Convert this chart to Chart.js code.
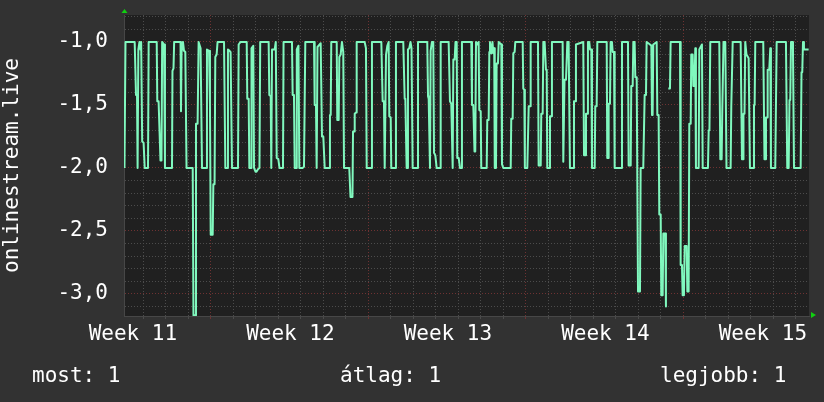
<!DOCTYPE html>
<html>
<head>
<meta charset="utf-8">
<script src="https://cdn.jsdelivr.net/npm/chart.js@4.4.0/dist/chart.umd.min.js"></script>
<style>
  html, body { margin: 0; padding: 0; background: #323232; }
  canvas { display: block; }
</style>
</head>
<body>
<canvas id="graph" width="824" height="402"></canvas>
<script>
// Hours since the left edge of the graph, one entry per vertex of the line
const hours = [
    0.5, 1.6, 11.4, 12.8, 13.9, 14.5, 15.3, 16.5, 17.6, 18.3,
    19.4, 20.9, 22.1, 25.6, 26.3, 34.9, 35.5, 36.9, 38.9, 40.0,
    40.7, 42.7, 43.7, 51.2, 51.7, 52.8, 53.5, 60.3, 60.8, 61.4,
    62.9, 64.0, 65.4, 66.7, 73.3, 74.1, 76.1, 76.8, 78.5, 79.6,
    81.7, 83.2, 88.0, 88.5, 90.7, 91.7, 92.5, 94.6, 95.3, 96.6,
    97.4, 98.8, 99.8, 106.7, 108.1, 109.9, 110.9, 112.6, 113.7, 115.2,
    121.6,
    122.3, 124.3, 130.9, 131.5, 133.0, 133.7, 135.5, 136.0, 137.9, 138.7,
    140.3, 141.3, 142.9, 144.5, 145.3, 154.3, 155.0, 156.5, 157.1, 157.9,
    160.7, 161.9, 162.9, 164.6, 165.9, 169.6, 170.2, 179.2, 179.9, 181.3,
    182.1, 183.8, 184.3, 186.1, 187.0, 190.4, 192.0, 193.4, 202.7, 203.4,
    204.8, 205.5, 206.4, 209.8, 211.2, 212.6, 214.1, 219.0, 219.7, 220.5,
    221.1, 226.9, 227.5, 229.0, 229.7, 231.1, 232.5, 233.9, 234.7, 240.3,
    241.6, 243.7,
    244.3, 245.5, 246.1, 247.5, 248.2, 256.7, 258.1, 258.9, 263.8, 264.5,
    274.5, 275.9, 277.3, 278.1, 279.5, 280.9, 282.3, 283.0, 284.5, 285.1,
    289.4, 290.1, 297.9, 299.4, 300.1, 301.5, 302.4, 302.9, 304.3, 305.6,
    306.7, 307.9, 312.9, 313.6, 323.5, 324.3, 325.0, 326.4, 327.1, 328.5,
    329.9, 330.7, 332.1, 333.5, 337.1, 337.8, 346.3, 347.7, 349.1, 350.6,
    351.3, 352.7, 353.6, 354.9, 355.5, 357.0, 358.4, 360.0, 360.5,
    370.5, 371.2, 372.6, 373.9, 374.7, 375.5, 376.9, 378.3, 379.0, 380.5,
    381.1, 386.9, 387.5, 389.0, 389.7, 390.4, 391.8, 393.1, 393.9, 394.9,
    395.5, 396.8, 397.5, 398.9, 399.7, 402.5, 403.2, 404.6, 412.5, 413.1,
    414.6, 415.3, 416.7, 417.4, 425.3, 425.9, 427.0, 427.6, 430.2, 431.7,
    433.1, 433.8, 441.6, 442.3, 444.5, 445.1, 446.6, 447.3, 448.7, 450.1,
    450.9, 451.5, 453.7, 454.4, 455.8, 456.5, 467.9, 468.6, 469.9, 471.5,
    472.9, 474.3, 475.7, 479.2, 480.0, 481.4, 482.1,
    489.9, 490.7, 492.1, 492.8, 494.2, 494.9, 496.3, 497.1, 498.5, 499.2,
    502.1, 502.7, 504.2, 504.9, 514.9, 515.5, 516.3, 517.0, 518.4, 519.1,
    520.5, 521.3, 522.7, 523.4, 530.5, 531.2, 537.6, 538.3, 540.5, 541.1,
    542.6, 543.3, 544.7, 545.4, 546.9, 548.3, 550.4, 551.1, 553.9, 555.4,
    556.8, 557.5, 561.1, 562.5, 563.2, 563.9, 564.6, 568.2, 568.9, 570.3,
    571.0, 572.5, 573.1, 574.6, 575.3, 577.4, 578.1, 578.7, 579.5, 580.6,
    582.4, 583.1, 593.1, 593.8, 595.2, 595.9, 597.3, 598.1, 600.2, 600.9,
    602.3, 603.0, 604.5, 605.1, 606.6, 607.3, 608.5, 609.4, 610.1, 613.0,
    613.7, 616.5, 617.3, 622.9, 623.7, 624.5, 625.4, 635.0,
    636.1, 637.5, 638.2, 638.9, 639.5, 641.4, 642.7, 647.1, 647.8, 648.5,
    649.3, 657.8, 659.2, 660.3, 660.8, 661.9, 662.7, 664.0, 666.3, 667.7,
    671.2, 672.0, 672.7, 673.4, 681.9, 683.2, 684.1, 684.8, 685.9, 686.6,
    688.3, 689.4, 690.1, 694.7, 696.2, 706.1, 707.5, 709.0, 709.9, 710.7,
    711.5, 712.9, 713.6, 714.7, 721.8, 722.7, 723.5, 724.3, 725.3, 730.3
];

const values = [
    -2.0, -1.0, -1.0, -1.42, -1.42, -2.0, -1.06, -1.0, -1.06, -1.0,
    -1.79, -1.8, -2.0, -2.0, -1.0, -1.0, -1.47, -1.47, -1.94, -1.94,
    -1.0, -1.02, -2.0, -2.0, -1.23, -1.21, -1.0, -1.0, -1.55, -1.08,
    -1.0, -1.07, -1.08, -2.0, -2.0, -3.17, -3.17, -1.65, -1.65, -1.0,
    -1.05, -2.0, -2.0, -1.06, -1.07, -1.5, -2.53, -2.53, -2.13, -2.13,
    -1.12, -1.1, -1.0, -1.0, -2.0, -2.0, -1.06, -1.07, -1.08, -2.0,
    -2.0,
    -1.02, -1.0, -1.0, -1.45, -1.45, -2.0, -2.0, -1.05, -1.03, -2.0,
    -2.03, -2.03, -2.01, -2.0, -1.0, -1.0, -1.42, -1.43, -2.0, -1.06,
    -1.06, -1.0, -1.92, -1.93, -2.0, -2.0, -1.0, -1.0, -1.42, -1.42,
    -2.0, -2.0, -1.06, -1.03, -2.0, -2.0, -1.99, -1.0, -1.0, -1.5,
    -1.5, -2.0, -1.04, -1.01, -1.75, -1.75, -2.0, -2.0, -1.58, -1.58,
    -1.0, -1.0, -1.62, -1.62, -1.12, -1.1, -1.0, -1.08, -2.0, -2.0,
    -2.23, -2.23,
    -1.71, -1.71, -1.57, -1.56, -1.0, -1.0, -1.05, -2.0, -2.0, -1.0,
    -1.0, -1.47, -1.47, -2.0, -1.1, -1.03, -1.0, -1.59, -1.6, -2.0,
    -2.0, -1.0, -1.0, -1.45, -1.45, -2.0, -2.0, -1.06, -1.05, -1.0,
    -1.05, -2.0, -2.0, -1.0, -1.0, -1.43, -1.45, -2.0, -1.07, -1.0,
    -1.0, -1.88, -1.9, -2.0, -2.0, -1.0, -1.0, -1.47, -1.49, -2.0,
    -1.14, -1.14, -1.0, -1.0, -1.92, -1.92, -2.0, -2.0, -1.0,
    -1.0, -1.5, -1.5, -1.87, -1.87, -1.0, -1.02, -1.0, -1.54, -1.55,
    -2.0, -2.0, -1.62, -1.62, -1.08, -1.0, -1.09, -1.0, -1.09, -1.05,
    -2.0, -2.0, -1.17, -1.17, -1.0, -1.02, -1.97, -2.0, -2.0, -1.61,
    -1.61, -1.09, -1.08, -1.0, -1.0, -1.37, -1.38, -2.0, -2.0, -1.51,
    -1.51, -1.0, -1.0, -1.98, -1.98, -1.57, -1.57, -1.0, -1.0, -1.22,
    -1.22, -2.0, -2.0, -1.59, -1.59, -1.0, -1.0, -1.95, -1.3, -1.3,
    -1.0, -1.0, -2.0, -2.0, -1.47, -1.47, -1.02,
    -1.0, -1.9, -1.9, -1.57, -1.57, -1.0, -1.0, -1.06, -1.06, -2.0,
    -2.0, -1.51, -1.51, -1.0, -1.0, -1.92, -1.92, -1.49, -1.49, -1.0,
    -1.0, -1.08, -1.08, -2.0, -2.0, -1.0, -1.0, -1.98, -1.98, -1.35,
    -1.35, -1.0, -1.0, -1.28, -1.28, -2.98, -2.98, -2.0, -2.0, -1.42,
    -1.42, -1.0, -1.02, -1.03, -1.58, -1.58, -1.02, -1.0, -1.58, -1.58,
    -2.37, -2.37, -3.01, -3.01, -2.52, -2.52, -3.1, -3.1, null, -1.37,
    -1.37, -1.0, -1.0, -2.77, -2.77, -3.01, -3.01, -2.62, -2.62, -2.98,
    -2.98, -1.65, -1.65, -1.1, -1.1, -1.35, -1.35, -1.05, -2.0, -2.0,
    -1.06, -1.02, -2.0, -2.0, -1.7, -1.7, -1.0, -1.0,
    -1.93, -1.93, -1.54, -1.54, -1.0, -1.0, -2.0, -2.0, -1.51, -1.51,
    -1.0, -1.0, -1.93, -1.93, -1.57, -1.57, -1.0, -1.1, -1.13, -2.0,
    -2.0, -1.5, -1.5, -1.0, -1.0, -1.93, -1.93, -1.6, -1.6, -1.22,
    -1.22, -1.05, -2.0, -2.0, -1.0, -1.0, -2.0, -2.0, -1.46, -1.46,
    -1.0, -1.0, -1.06, -2.0, -2.0, -1.24, -1.24, -1.0, -1.06, -1.06
];

// Axis labels
const weekLabels = ['Week 11', 'Week 12', 'Week 13', 'Week 14', 'Week 15'];
const weekLabelHours = [9.5, 177.5, 345.5, 513.5, 681.5];
const yLabelValues = [-1.0, -1.5, -2.0, -2.5, -3.0];
const seriesName = 'onlinestream.live';

// Summary line under the graph
const statNames = ['most', 'átlag', 'legjobb'];
const statValues = ['1', '1', '1'];

// Ranges
const X_MAX = 730.7;
const Y_MIN = -3.175;
const Y_MAX = -0.786;
const FIRST_DAY_LINE = 20.3;   // hours
const FIRST_WEEK_LINE = 92.3;  // hours

// Colours
const BACK = '#323232';
const CANVAS = '#202020';
const GRID_MINOR = '#4c4c4c';
const GRID_MAJOR = '#6e3232';
const AXIS = '#474747';
const LINE = '#80f8be';
const ARROW = '#10d010';
const FONT = "'DejaVu Sans Mono', monospace";

Chart.defaults.font.family = FONT;
Chart.defaults.font.size = 21;
Chart.defaults.color = '#ffffff';

const dayLines = [];
for (let h = FIRST_DAY_LINE; h < X_MAX; h += 24) dayLines.push(Math.round(h * 10) / 10);
const yLines = [];
for (let k = -31; k <= -8; k++) yLines.push(k / 10);

function isWeekLine(h) {
    const m = (((h - FIRST_WEEK_LINE) % 168) + 168) % 168;
    return m < 0.5 || m > 167.5;
}
function isWeekLabel(h) {
    return weekLabelHours.some(v => Math.abs(v - h) < 1e-6);
}
function isYLabel(v) {
    return yLabelValues.some(l => Math.abs(l - v) < 1e-6);
}

const points = hours.map((h, i) => ({ x: h, y: values[i] }));

const backgroundPlugin = {
    id: 'rrdBackground',
    beforeDraw(chart) {
        const { ctx, chartArea: a } = chart;
        ctx.save();
        ctx.fillStyle = BACK;
        ctx.fillRect(0, 0, chart.width, chart.height);
        ctx.fillStyle = CANVAS;
        ctx.fillRect(a.left, a.top, a.right - a.left, a.bottom - a.top);
        ctx.restore();
    }
};

const decorationPlugin = {
    id: 'rrdDecoration',
    afterDraw(chart) {
        const { ctx, chartArea: a } = chart;
        ctx.save();
        // axis arrows
        ctx.fillStyle = ARROW;
        ctx.beginPath();
        ctx.moveTo(a.left - 2.5, a.top - 2);
        ctx.lineTo(a.left + 3.5, a.top - 2);
        ctx.lineTo(a.left + 0.5, a.top - 6);
        ctx.closePath();
        ctx.fill();
        ctx.beginPath();
        ctx.moveTo(a.right + 2, a.bottom - 4);
        ctx.lineTo(a.right + 2, a.bottom + 2);
        ctx.lineTo(a.right + 7, a.bottom - 1);
        ctx.closePath();
        ctx.fill();

        // summary
        ctx.fillStyle = '#ffffff';
        ctx.font = '21px ' + FONT;
        ctx.textBaseline = 'alphabetic';
        ctx.textAlign = 'left';
        const xs = [32, 340, 660];
        statNames.forEach((name, i) => {
            ctx.fillText(name + ': ' + statValues[i], xs[i], 382);
        });
        ctx.restore();
    }
};

new Chart(document.getElementById('graph'), {
    type: 'line',
    data: {
        datasets: [{
            label: seriesName,
            data: points,
            borderColor: LINE,
            borderWidth: 2,
            borderJoinStyle: 'round',
            pointRadius: 0,
            tension: 0,
            spanGaps: false,
            fill: false
        }]
    },
    options: {
        responsive: false,
        animation: false,
        events: [],
        layout: {
            autoPadding: false,
            padding: { left: 0, right: 15, top: 15, bottom: 56 }
        },
        plugins: {
            legend: { display: false },
            tooltip: { enabled: false }
        },
        scales: {
            x: {
                type: 'linear',
                min: 0,
                max: X_MAX,
                bounds: 'data',
                afterBuildTicks: s => {
                    s.ticks = dayLines.concat(weekLabelHours)
                        .sort((a, b) => a - b)
                        .map(v => ({ value: v }));
                },
                afterFit: s => {
                    s.height = 30;
                    s.paddingLeft = 0;
                    s.paddingRight = 0;
                },
                grid: {
                    color: c => isWeekLabel(c.tick.value) ? 'rgba(0,0,0,0)'
                        : (isWeekLine(c.tick.value) ? GRID_MAJOR : GRID_MINOR),
                    tickColor: c => isWeekLabel(c.tick.value) ? 'rgba(0,0,0,0)'
                        : (isWeekLine(c.tick.value) ? GRID_MAJOR : GRID_MINOR),
                    lineWidth: 1,
                    tickLength: 3,
                    tickBorderDash: []
                },
                border: { display: true, color: AXIS, dash: [1, 2] },
                ticks: {
                    autoSkip: false,
                    maxRotation: 0,
                    minRotation: 0,
                    padding: 3,
                    color: '#ffffff',
                    callback: v => {
                        const i = weekLabelHours.findIndex(h => Math.abs(h - v) < 1e-6);
                        return i >= 0 ? weekLabels[i] : '';
                    }
                }
            },
            y: {
                type: 'linear',
                min: Y_MIN,
                max: Y_MAX,
                bounds: 'data',
                afterBuildTicks: s => { s.ticks = yLines.map(v => ({ value: v })); },
                afterFit: s => {
                    s.width = 124;
                    s.paddingTop = 0;
                    s.paddingBottom = 0;
                },
                grid: {
                    color: c => isYLabel(c.tick.value) ? GRID_MAJOR : GRID_MINOR,
                    lineWidth: 1,
                    drawTicks: false
                },
                border: { display: true, color: AXIS, dash: [1, 2] },
                ticks: {
                    autoSkip: false,
                    padding: 16,
                    color: '#ffffff',
                    callback: v => isYLabel(v) ? v.toFixed(1).replace('.', ',') : ''
                },
                title: {
                    display: true,
                    text: seriesName,
                    color: '#ffffff',
                    padding: { top: 0, bottom: 0 },
                    font: { family: FONT, size: 21 }
                }
            }
        }
    },
    plugins: [backgroundPlugin, decorationPlugin]
});
</script>
</body>
</html>
